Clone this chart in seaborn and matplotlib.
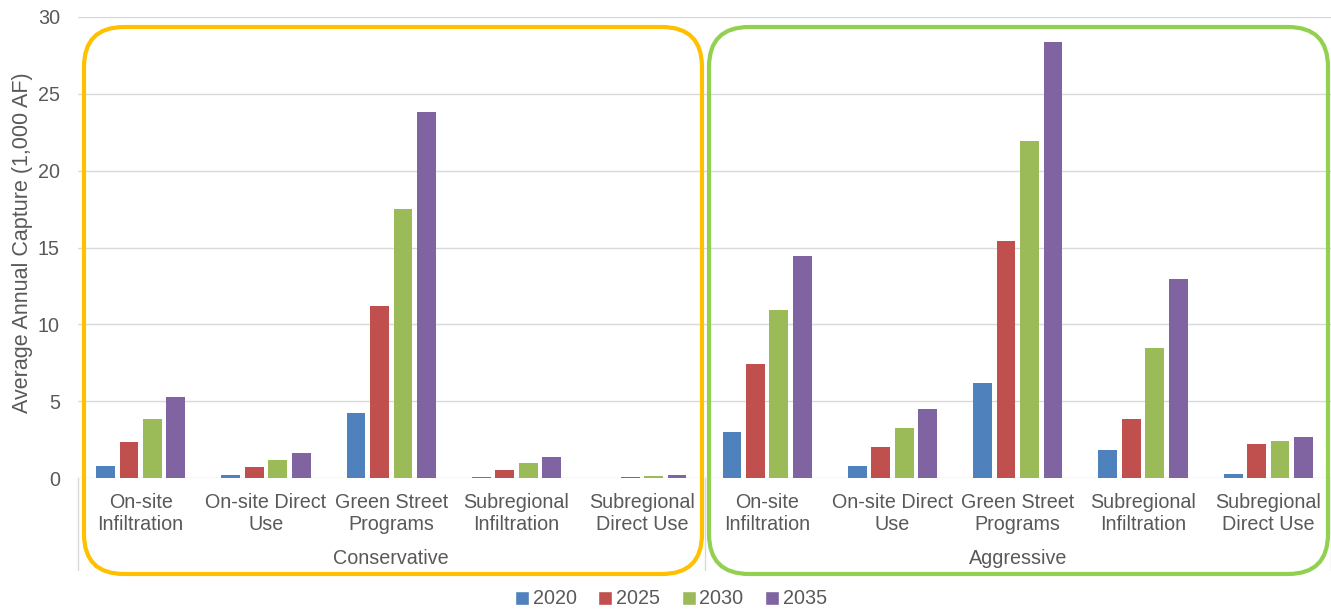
import pandas as pd
import matplotlib
matplotlib.use("Agg")
import matplotlib.pyplot as plt
from matplotlib.patches import FancyBboxPatch, Patch
import seaborn as sns

# data (1,000 AF)
CATEGORIES = ["On-site\nInfiltration", "On-site Direct\nUse", "Green Street\nPrograms",
              "Subregional\nInfiltration", "Subregional\nDirect Use"]
SCENARIOS = ["Conservative", "Aggressive"]
YEARS = ["2020", "2025", "2030", "2035"]

conservative_2020 = [0.78, 0.21, 4.25, 0.07, 0.01]
conservative_2025 = [2.34, 0.72, 11.2, 0.52, 0.07]
conservative_2030 = [3.81, 1.17, 17.5, 0.98, 0.13]
conservative_2035 = [5.29, 1.65, 23.85, 1.39, 0.21]

aggressive_2020 = [2.99, 0.75, 6.2, 1.82, 0.26]
aggressive_2025 = [7.44, 2.02, 15.45, 3.84, 2.21]
aggressive_2030 = [10.96, 3.25, 21.95, 8.45, 2.43]
aggressive_2035 = [14.47, 4.49, 28.4, 12.95, 2.67]

PALETTE = {"2020": "#4F81BD", "2025": "#C0504D", "2030": "#9BBB59", "2035": "#8064A2"}
TEXT = "#595959"
GRID = "#D9D9D9"
FS = 14.2

series = {
    "Conservative": [conservative_2020, conservative_2025, conservative_2030, conservative_2035],
    "Aggressive": [aggressive_2020, aggressive_2025, aggressive_2030, aggressive_2035],
}
rows = []
for scen in SCENARIOS:
    for yi, year in enumerate(YEARS):
        for ci, cat in enumerate(CATEGORIES):
            rows.append({"key": f"{scen}|{cat}", "year": year, "value": series[scen][yi][ci]})
df = pd.DataFrame(rows)
order = [f"{s}|{c}" for s in SCENARIOS for c in CATEGORIES]

sns.set_style("white")
plt.rcParams["font.family"] = ["Liberation Sans", "DejaVu Sans"]

fig = plt.figure(figsize=(13.31, 6.10), dpi=100)
ax = fig.add_axes([78 / 1331, (610 - 478) / 610, (1331 - 78) / 1331, 461 / 610])

sns.barplot(data=df, x="key", y="value", hue="year", order=order, hue_order=YEARS,
            palette=PALETTE, width=0.75, gap=0.2, saturation=1,
            linewidth=0, legend=False, ax=ax)

ax.set_xlim(-0.5, 9.5)
ax.set_ylim(0, 30)
ax.set_yticks(range(0, 31, 5))
ax.yaxis.grid(True, color=GRID, linewidth=1)
ax.set_axisbelow(True)
for s in ax.spines.values():
    s.set_visible(False)
ax.tick_params(axis="both", length=0, colors=TEXT, labelsize=FS)
ax.tick_params(axis="y", pad=13)
ax.tick_params(axis="x", pad=11)
ax.set_xticks(range(10))
ax.set_xticklabels(CATEGORIES * 2, color=TEXT, fontsize=FS, linespacing=1.18)
ax.set_xlabel("")
ax.set_ylabel("Average Annual Capture (1,000 AF)", color=TEXT, fontsize=15.5)
ax.yaxis.set_label_coords(-0.036, 0.51)

# group labels and separators below the category axis
tr = ax.get_xaxis_transform()
for i, scen in enumerate(SCENARIOS):
    ax.text(2 + 5 * i, -0.175, scen, transform=tr, ha="center", va="center",
            color=TEXT, fontsize=FS)
for x in [-0.5, 4.5, 9.5]:
    ax.plot([x, x], [0, -0.2], transform=tr, color=GRID, linewidth=1, clip_on=False)

# rounded outline boxes (in inches so the corners stay round)
for x0, x1, col in [(84, 702, "#FFC000"), (709, 1328, "#92D050")]:
    box = FancyBboxPatch((x0 / 100, 0.36), (x1 - x0) / 100, (574 - 27) / 100,
                         boxstyle="round,pad=0,rounding_size=0.4",
                         transform=fig.dpi_scale_trans, fill=False,
                         edgecolor=col, linewidth=3, zorder=5)
    fig.add_artist(box)

handles = [Patch(facecolor=PALETTE[y], label=y) for y in YEARS]
fig.legend(handles=handles, loc="center", bbox_to_anchor=(671 / 1331, 1 - 599 / 610),
           ncol=4, frameon=False, fontsize=FS, handlelength=0.7, handleheight=0.7,
           handletextpad=0.2, columnspacing=1.1, labelcolor=TEXT)

fig.savefig("out.png", dpi=100)
